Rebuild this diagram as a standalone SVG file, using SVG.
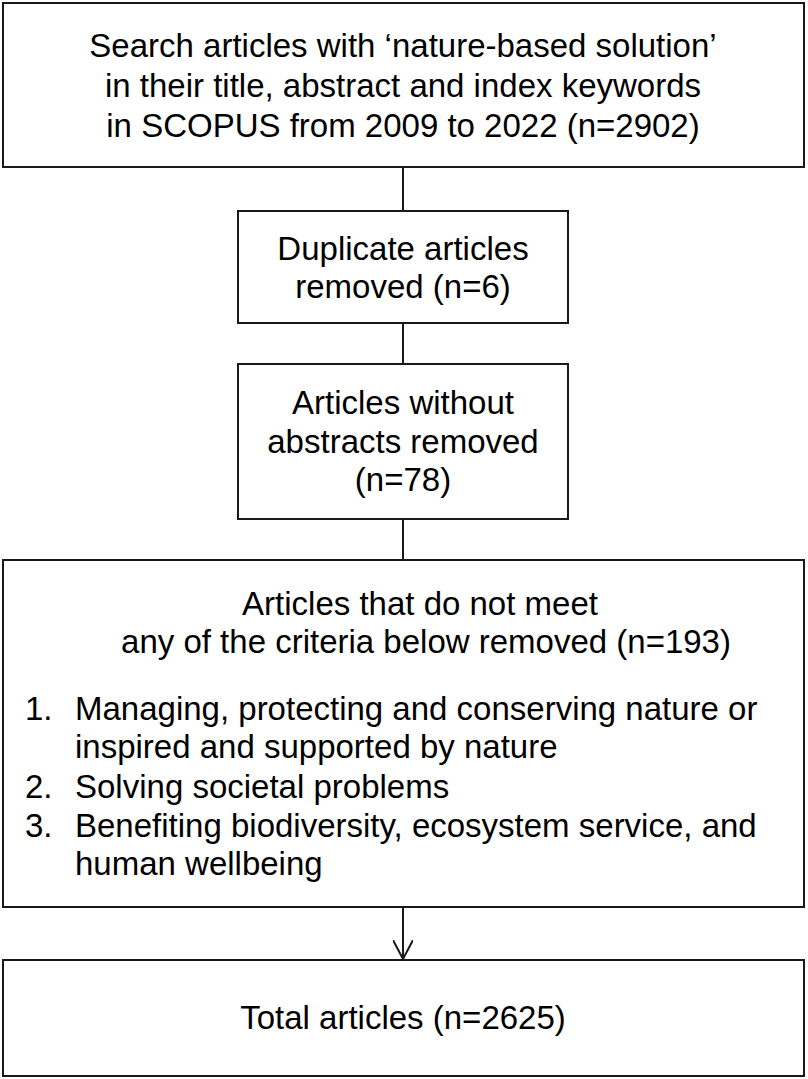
<svg xmlns="http://www.w3.org/2000/svg" width="808" height="1079" viewBox="0 0 808 1079">
<defs>
<style>
.box{fill:#fff;stroke:#1a1a1a;stroke-width:2}
.t{font-family:"Liberation Sans",Arial,sans-serif;font-size:33px;fill:#000}
.c{text-anchor:middle}
.ln{stroke:#1a1a1a;stroke-width:2;fill:none}
</style>
<marker id="arr" viewBox="0 0 20 20" refX="19" refY="10" markerWidth="20" markerHeight="20" markerUnits="userSpaceOnUse" orient="auto">
<path d="M0,0 L19,10 L0,20" fill="none" stroke="#1a1a1a" stroke-width="2"/>
</marker>
</defs>
<rect width="808" height="1079" fill="#fff"/>
<g id="connectors">
<line class="ln" x1="403" y1="167" x2="403" y2="211"/>
<line class="ln" x1="403" y1="323" x2="403" y2="364"/>
<line class="ln" x1="403" y1="519" x2="403" y2="560"/>
<line class="ln" x1="403" y1="907" x2="403" y2="959" marker-end="url(#arr)"/>
</g>
<g id="node-search">
<rect class="box" x="3" y="3" width="801" height="164"/>
<text class="t c" x="403" y="57">Search articles with ‘nature-based solution’</text>
<text class="t c" x="403" y="97">in their title, abstract and index keywords</text>
<text class="t c" x="403" y="137">in SCOPUS from 2009 to 2022 (n=2902)</text>
</g>
<g id="node-duplicates">
<rect class="box" x="238" y="211" width="330" height="112"/>
<text class="t c" x="403" y="260">Duplicate articles</text>
<text class="t c" x="403" y="298">removed (n=6)</text>
</g>
<g id="node-noabstract">
<rect class="box" x="238" y="364" width="330" height="155"/>
<text class="t c" x="403" y="414">Articles without</text>
<text class="t c" x="403" y="453">abstracts removed</text>
<text class="t c" x="403" y="491">(n=78)</text>
</g>
<g id="node-criteria">
<rect class="box" x="3" y="560" width="801" height="347"/>
<text class="t c" x="420" y="615">Articles that do not meet</text>
<text class="t c" x="426" y="653">any of the criteria below removed (n=193)</text>
<text class="t" x="25" y="720">1.</text>
<text class="t" x="75" y="720">Managing, protecting and conserving nature or</text>
<text class="t" x="75" y="758">inspired and supported by nature</text>
<text class="t" x="25" y="798">2.</text>
<text class="t" x="75" y="798">Solving societal problems</text>
<text class="t" x="25" y="837">3.</text>
<text class="t" x="75" y="837">Benefiting biodiversity, ecosystem service, and</text>
<text class="t" x="75" y="875">human wellbeing</text>
</g>
<g id="node-total">
<rect class="box" x="3" y="960" width="801" height="116"/>
<text class="t c" x="403" y="1029">Total articles (n=2625)</text>
</g>
</svg>
